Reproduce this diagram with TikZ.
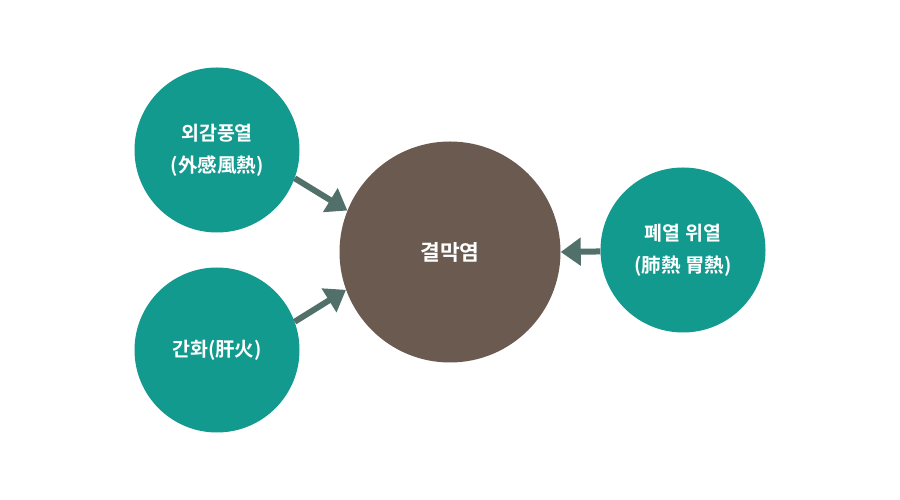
\documentclass[tikz,border=0pt]{standalone}
\usepackage{fontspec}
\newfontfamily\kr{Noto Sans CJK KR}[BoldFont={Noto Sans CJK KR Bold}]
\usetikzlibrary{arrows.meta}
\definecolor{teal1}{HTML}{139A8F}
\definecolor{brown1}{HTML}{6B5A50}
\definecolor{arrowc}{HTML}{52706A}
\tikzset{
  side/.style={circle, fill=teal1, minimum size=165pt, inner sep=0pt, text=white, align=center, font=\kr\bfseries\fontsize{19.5pt}{32pt}\selectfont},
  mid/.style={circle, fill=brown1, minimum size=221pt, inner sep=0pt, text=white, font=\kr\bfseries\fontsize{21.5pt}{24pt}\selectfont},
  conn/.style={draw=arrowc, line width=6pt, -{Triangle[length=20pt,width=27pt]}}
}
\begin{document}
\begin{tikzpicture}[x=1pt,y=1pt]
\useasboundingbox[fill=white] (0,0) rectangle (900,500);
\node[side] (tl) at (217,350) {외감풍열\\(外感風熱)};
\node[side] (bl) at (217,150) {간화(肝火)};
\node[side] (r) at (683,250) {폐열 위열\\(肺熱 胃熱)};
\node[mid] (c) at (450,248) {결막염};
\draw[conn] (tl.-20) -- (c.158);
\draw[conn] (bl.20) -- (c.200);
\draw[conn] (r.181) -- (c.0);
\end{tikzpicture}
\end{document}
